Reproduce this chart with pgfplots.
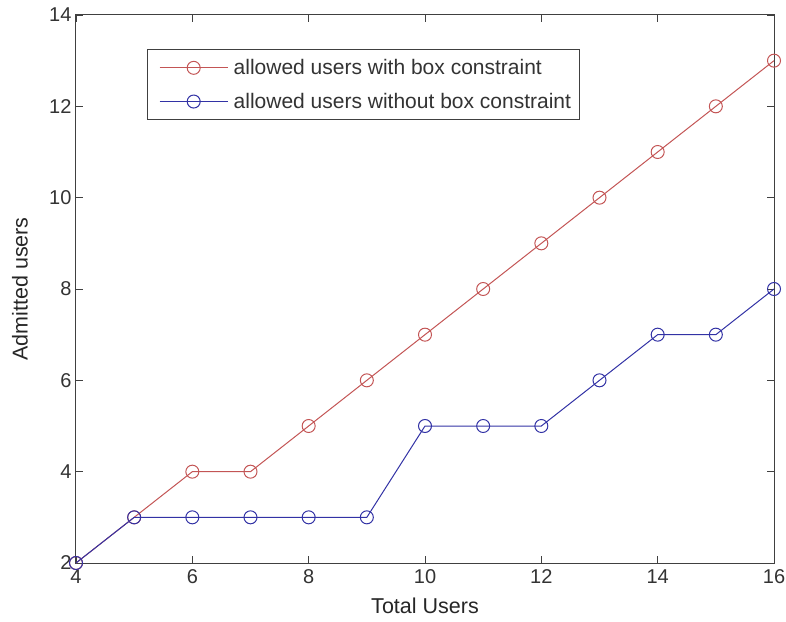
\documentclass[border=0pt]{standalone}
\usepackage{pgfplots}
\pgfplotsset{compat=1.18}
\usepackage{fontspec}
\setmainfont{Liberation Sans}
\definecolor{mred}{RGB}{195,85,85}
\definecolor{mblue}{RGB}{50,50,165}
\begin{document}
\begin{tikzpicture}
\begin{axis}[
  at={(0,0)}, anchor=south west,
  scale only axis,
  width=698pt, height=548pt,
  xmin=4, xmax=16, ymin=2, ymax=14,
  xtick={4,6,...,16}, ytick={2,4,...,14},
  tick align=inside,
  major tick length=7pt,
  axis line style={black!75, line width=1pt},
  tick style={black!75, line width=0.8pt},
  /pgf/number format/assume math mode=true,
  tick label style={font=\fontsize{20}{22}\selectfont, text=black!80},
  xticklabel style={yshift=-3pt},
  yticklabel style={xshift=-1pt},
  xlabel={Total Users},
  ylabel={Admitted users},
  label style={font=\fontsize{21.5}{24}\selectfont, text=black!85},
  xlabel style={at={(axis description cs:0.5,-0.0785)}, anchor=center},
  ylabel style={at={(axis description cs:-0.0802,0.5)}, anchor=center},
  legend style={at={(0.102,0.938)}, anchor=north west,
    font=\fontsize{21}{24}\selectfont, text=black!80,
    draw=black!75, line width=1pt, inner xsep=6pt, inner ysep=8pt,
    row sep=13pt, cells={anchor=west}},
  legend image code/.code={
    \path[draw=none] (0pt,0pt) -- (78pt,0pt);
    \draw[#1, mark repeat=2, mark phase=2] plot coordinates {(6pt,0pt) (40pt,0pt) (74pt,0pt)};
  },
  every axis plot/.append style={line width=1pt, mark size=6.5pt, mark options={solid, line width=1pt}},
]
\addplot[mred, mark=o] coordinates {
(4,2) (5,3) (6,4) (7,4) (8,5) (9,6) (10,7) (11,8) (12,9) (13,10) (14,11) (15,12) (16,13)};
\addlegendentry{allowed users with box constraint}
\addplot[mblue, mark=o] coordinates {
(4,2) (5,3) (6,3) (7,3) (8,3) (9,3) (10,5) (11,5) (12,5) (13,6) (14,7) (15,7) (16,8)};
\addlegendentry{allowed users without box constraint}
\end{axis}
\pgfresetboundingbox
\useasboundingbox (-76pt,-58pt) rectangle (710pt,563pt);
\end{tikzpicture}
\end{document}
